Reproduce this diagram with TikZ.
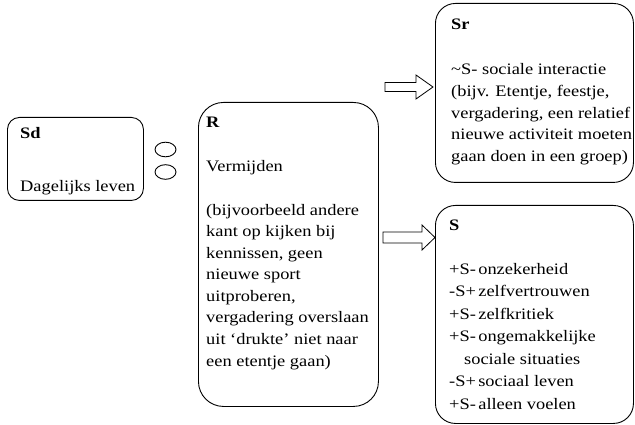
\documentclass[tikz,border=0pt]{standalone}
\usepackage{fontspec}
\setmainfont{Liberation Serif}[FakeStretch=1.15]
\usetikzlibrary{shapes.geometric}
% a block of left-aligned lines whose baseline is that of its first line
\newcommand\txtlines[1]{\begin{tabular}[t]{@{}l@{}}#1\end{tabular}}
\begin{document}
\begin{tikzpicture}[x=1pt,y=-1pt,
  box/.style={draw, line width=0.9pt, rounded corners=#1, inner sep=0pt, anchor=north west},
  txt/.style={inner sep=0pt, anchor=base west,
    font=\fontsize{16}{21.6}\selectfont},
  txtwide/.style={txt, font=\fontsize{16}{22.5}\selectfont},
  bubble/.style={draw, line width=0.9pt, ellipse, inner sep=0pt,
    minimum width=21pt, minimum height=14.6pt},
  hollow/.style={draw, line width=0.8pt, fill=white}]
\useasboundingbox (0,0) rectangle (635,425);

% boxes
\node[box=12pt, minimum width=136pt, minimum height=83pt] (sd) at (7,117) {};
\node[box=25pt, minimum width=180pt, minimum height=304pt] (r) at (198,102) {};
\node[box=20pt, minimum width=198pt, minimum height=179pt] (sr) at (435,3) {};
\node[box=20pt, minimum width=198pt, minimum height=218pt] (s) at (435,205) {};

% box texts
\node[txt] (sdhead) at (20,139) {\textbf{Sd}};
\node[txt] (sdtext) at (20,192) {Dagelijks leven};

\node[txt] (rhead) at (206,128) {\textbf{R}};
\node[txt] (rname) at (206,172) {Vermijden};
\node[txt] (rtext) at (206,215) {\txtlines{(bijvoorbeeld andere\\kant op kijken bij\\kennissen, geen\\nieuwe sport\\uitproberen,\\vergadering overslaan\\uit `drukte' niet naar\\een etentje gaan)}};

\node[txt] (srhead) at (451,30) {\textbf{Sr}};
\node[txt] (srtext) at (451,75) {\txtlines{\char"007E S- sociale interactie\\(bijv. Etentje, feestje,\\vergadering, een relatief\\nieuwe activiteit moeten\\gaan doen in een groep)}};

\node[txt] (shead) at (449,230.5) {\textbf{S}};
\node[txtwide] (stext) at (449,274) {\txtlines{+S-\hspace{0.15em}onzekerheid\\-S+\hspace{0.15em}zelfvertrouwen\\+S-\hspace{0.15em}zelfkritiek\\+S-\hspace{0.15em}ongemakkelijke\\\hspace*{15pt}sociale situaties\\-S+\hspace{0.15em}sociaal leven\\+S-\hspace{0.15em}alleen voelen}};

% two small ovals between Sd and R
\node[bubble] (o1) at (165.5,149.5) {};
\node[bubble] (o2) at (165.5,172) {};

% hollow block arrows
\coordinate (a1) at (385,87);
\draw[hollow] (a1) ++(0,-4.5) -- ++(31,0) -- ++(0,-7.5) -- ++(17,12) -- ++(-17,12) -- ++(0,-7.5) -- ++(-31,0) -- cycle;
\coordinate (a2) at (383,237.5);
\draw[hollow] (a2) ++(0,-5.5) -- ++(39,0) -- ++(0,-7) -- ++(13,12.5) -- ++(-13,12.5) -- ++(0,-7) -- ++(-39,0) -- cycle;
\end{tikzpicture}
\end{document}
